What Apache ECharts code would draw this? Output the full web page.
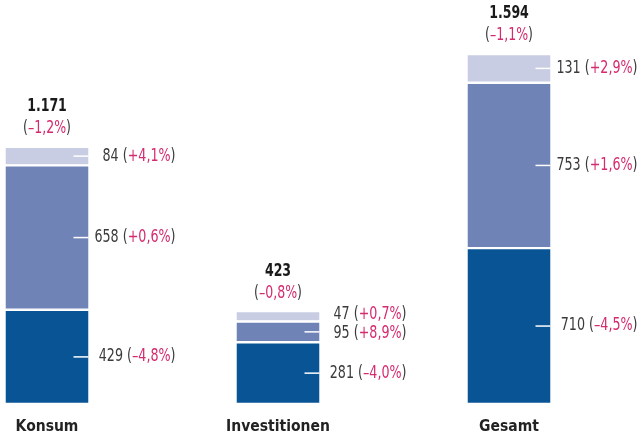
<!DOCTYPE html>
<html>
<head>
<meta charset="utf-8">
<script src="https://cdn.jsdelivr.net/npm/echarts@6/dist/echarts.min.js"></script>
<style>
  html, body { margin: 0; padding: 0; background: #fff; }
  #chart { width: 643px; height: 436px; }
</style>
</head>
<body>
<div id="chart"></div>
<script>
var categories = ['Konsum', 'Investitionen', 'Gesamt'];
var base = [429, 281, 710];
var middle = [658, 95, 753];
var upper = [84, 47, 131];
var basePct = ['–4,8%', '–4,0%', '–4,5%'];
var middlePct = ['+0,6%', '+8,9%', '+1,6%'];
var upperPct = ['+4,1%', '+0,7%', '+2,9%'];
var totalPct = ['–1,2%', '–0,8%', '–1,1%'];

var FONT = '"DejaVu Sans Condensed", "Liberation Sans Narrow", sans-serif';
var barWidth = 85;
var pink = '#d42a6e';
var grey = '#3a3a3a';

function fmtNum(n) {
    return String(n).replace(/\B(?=(\d{3})+(?!\d))/g, '.');
}

var rich = {
    v: { fontFamily: FONT, fontSize: 17, fill: grey },
    g: { fontFamily: FONT, fontSize: 17, fill: grey },
    p: { fontFamily: FONT, fontSize: 17, fill: pink },
    b: { fontFamily: FONT, fontSize: 17, fontWeight: 'bold', fill: '#1a1a1a', lineHeight: 22 },
    g2: { fontFamily: FONT, fontSize: 17, fill: grey, lineHeight: 22 },
    p2: { fontFamily: FONT, fontSize: 17, fill: pink, lineHeight: 22 }
};

function renderLabels(params, api) {
    var i = api.value(0);
    var vals = [base[i], middle[i], upper[i]];
    var pcts = [basePct[i], middlePct[i], upperPct[i]];
    var center = api.coord([i, 0])[0];
    var right = center + barWidth / 2;
    var children = [];
    var cum = 0;
    var ys = [];
    for (var k = 0; k < vals.length; k++) {
        var y0 = api.coord([i, cum])[1];
        cum += vals[k];
        var y1 = api.coord([i, cum])[1];
        var mid = (y0 + y1) / 2;
        if (y0 - y1 > 14) {
            children.push({
                type: 'line',
                shape: { x1: right - 16, y1: mid, x2: right - 1, y2: mid },
                style: { stroke: '#fff', lineWidth: 1.5 }
            });
        }
        ys.push(mid);
    }
    // keep labels apart
    var gap = 19;
    for (var j = 1; j < ys.length; j++) {
        var d = ys[j - 1] - ys[j];
        if (d < gap) {
            var s = (gap - d) / 2;
            ys[j - 1] += s;
            ys[j] -= s;
        }
    }
    for (var m = 0; m < vals.length; m++) {
        children.push({
            type: 'text',
            x: right + 86,
            y: ys[m],
            scaleX: 0.83,
            style: {
                text: '{v|' + vals[m] + ' }{g|(}{p|' + pcts[m] + '}{g|)}',
                rich: rich,
                align: 'right',
                verticalAlign: 'middle'
            }
        });
    }
    var topY = api.coord([i, cum])[1];
    children.push({
        type: 'text',
        x: center,
        y: topY - 7,
        scaleX: 0.82,
        style: {
            text: '{b|' + fmtNum(cum) + '}\n{g2|(}{p2|' + totalPct[i] + '}{g2|)}',
            rich: rich,
            align: 'center',
            verticalAlign: 'bottom'
        }
    });
    return { type: 'group', children: children };
}

var barStyle = function (color) {
    return { color: color, borderColor: '#fff', borderWidth: 1.2 };
};

var option = {
    animation: false,
    backgroundColor: '#fff',
    grid: { left: 47, right: 134, top: 0, bottom: 32 },
    xAxis: {
        type: 'category',
        data: categories,
        boundaryGap: false,
        axisLine: { show: false },
        axisTick: { show: false },
        axisLabel: {
            margin: 15,
            fontFamily: FONT,
            fontSize: 15.5,
            fontWeight: 'bold',
            color: '#222'
        }
    },
    yAxis: { type: 'value', min: 0, max: 1840, show: false },
    series: [
        { type: 'bar', stack: 'a', barWidth: barWidth, data: base, itemStyle: barStyle('#095494') },
        { type: 'bar', stack: 'a', barWidth: barWidth, data: middle, itemStyle: barStyle('#7083b7') },
        { type: 'bar', stack: 'a', barWidth: barWidth, data: upper, itemStyle: barStyle('#c8cde3') },
        {
            type: 'custom',
            z: 5,
            renderItem: renderLabels,
            encode: { x: 0, y: 1 },
            data: categories.map(function (c, i) { return [i, 0]; })
        }
    ]
};

var myChart = echarts.init(document.getElementById('chart'));
myChart.setOption(option);
</script>
</body>
</html>
